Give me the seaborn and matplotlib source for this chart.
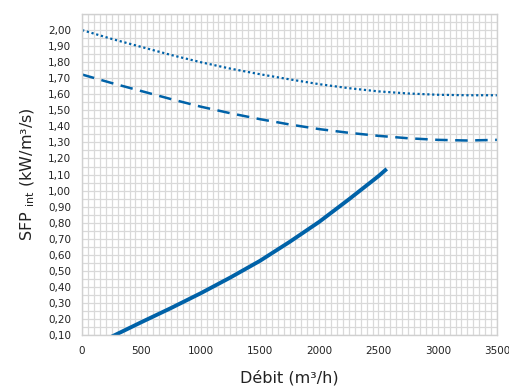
import matplotlib
matplotlib.use("Agg")
import matplotlib.pyplot as plt
import seaborn as sns
import pandas as pd
from matplotlib.ticker import MultipleLocator, FuncFormatter

# Data
dotted_x = [0, 250, 500, 750, 1000, 1250, 1500, 1750, 2000, 2250, 2500, 2750, 3000, 3250, 3500]
dotted_y = [2.00, 1.945, 1.895, 1.845, 1.80, 1.76, 1.725, 1.693, 1.663, 1.638, 1.618, 1.605, 1.597, 1.594, 1.594]

dashed_x = [0, 250, 500, 750, 1000, 1250, 1500, 1750, 2000, 2250, 2500, 2750, 3000, 3250, 3500]
dashed_y = [1.723, 1.67, 1.62, 1.57, 1.523, 1.482, 1.445, 1.412, 1.383, 1.36, 1.341, 1.326, 1.316, 1.312, 1.316]

solid_x = [250, 500, 750, 1000, 1250, 1500, 1750, 2000, 2250, 2500, 2570]
solid_y = [0.09, 0.18, 0.268, 0.36, 0.458, 0.562, 0.68, 0.805, 0.945, 1.09, 1.135]

x_ticks = [0, 500, 1000, 1500, 2000, 2500, 3000, 3500]
y_ticks = [round(0.1 * i, 2) for i in range(1, 21)]

sns.set_theme(style="white")
plt.rcParams['font.family'] = ['DejaVu Sans']

color = "#0062A8"
fig = plt.figure(figsize=(5.1, 3.9), dpi=100)
ax = fig.add_axes([0.161, 0.141, 0.9745 - 0.161, 0.964 - 0.141])

df_dot = pd.DataFrame({"x": dotted_x, "y": dotted_y})
df_dash = pd.DataFrame({"x": dashed_x, "y": dashed_y})
df_sol = pd.DataFrame({"x": solid_x, "y": solid_y})

sns.lineplot(data=df_dot, x="x", y="y", ax=ax, color=color, linewidth=1.6,
             linestyle=(0, (1, 1.2)))
sns.lineplot(data=df_dash, x="x", y="y", ax=ax, color=color, linewidth=1.8,
             linestyle=(0, (5, 3)))
sns.lineplot(data=df_sol, x="x", y="y", ax=ax, color=color, linewidth=2.8,
             solid_capstyle="butt")

ax.set_xlim(0, 3500)
ax.set_ylim(0.1, 2.1)
ax.set_xticks(x_ticks)
ax.set_yticks(y_ticks)
ax.xaxis.set_minor_locator(MultipleLocator(50))
ax.yaxis.set_minor_locator(MultipleLocator(0.05))
ax.yaxis.set_major_formatter(FuncFormatter(lambda v, p: f"{v:.2f}".replace(".", ",")))
ax.xaxis.set_major_formatter(FuncFormatter(lambda v, p: f"{int(round(v))}"))

ax.grid(which="both", color="#d9d9d9", linewidth=0.9)
ax.set_axisbelow(True)
ax.tick_params(which="both", length=0)
ax.tick_params(axis="y", labelsize=7.5, pad=8, colors="#222222")
ax.tick_params(axis="x", labelsize=7.5, pad=8, colors="#222222")
for s in ax.spines.values():
    s.set_color("#d0d0d0")
    s.set_linewidth(1.0)

ax.set_xlabel("Débit (m³/h)", fontsize=11.5, color="#222222", labelpad=10)
ax.set_ylabel("SFP $_{\\mathregular{int}}$ (kW/m³/s)", fontsize=11.5, color="#222222", labelpad=8)

fig.savefig("out.png", dpi=100)
